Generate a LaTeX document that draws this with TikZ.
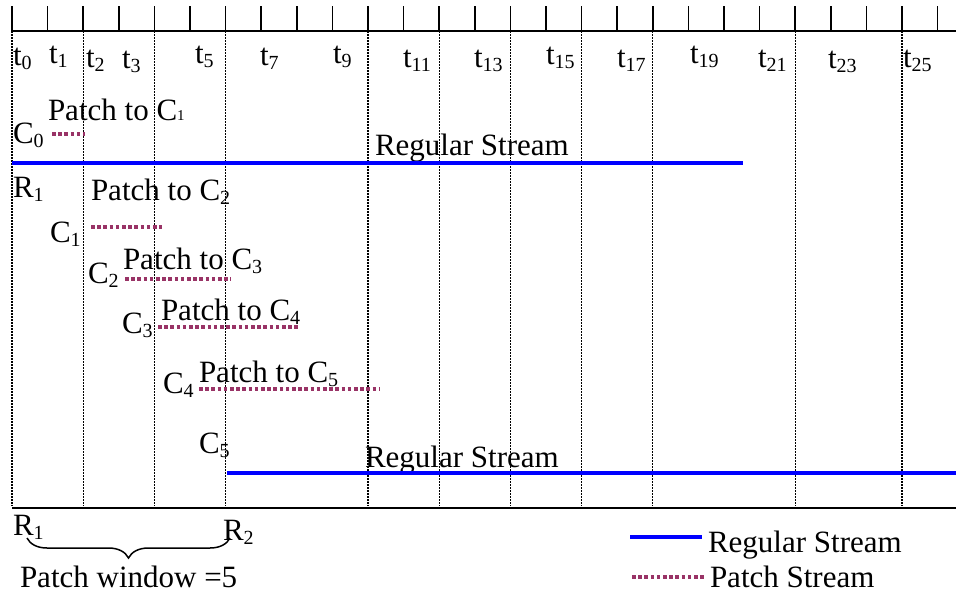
\documentclass[tikz,border=0pt]{standalone}
\usepackage{fontspec}
\setmainfont{Liberation Serif}
\usetikzlibrary{decorations.pathreplacing}
\definecolor{streamblue}{RGB}{0,0,255}
\definecolor{patchred}{RGB}{153,51,102}
\newcommand\bigfont{\fontsize{31}{37}\selectfont}
% lowered index digits, as in t_0 or C_1
\newcommand\lowidx[1]{\raisebox{-0.15em}{\fontsize{20}{20}\selectfont #1}}
\newcommand\smallidx[1]{{\fontsize{15}{15}\selectfont #1}}
\begin{document}
\begin{tikzpicture}[x=1pt,y=-1pt]
\tikzset{
  lbl/.style={anchor=base west, inner sep=0pt, outer sep=0pt, font=\bigfont},
  tickln/.style={line width=1.5pt},
  axisln/.style={line width=2pt},
  gridln/.style={line width=1.1pt, dash pattern=on 1.5pt off 1.5pt},
  regular/.style={line width=4.5pt, draw=streamblue},
  patch/.style={line width=3.5pt, draw=patchred, dash pattern=on 3.5pt off 2.7pt},
}
\useasboundingbox (0,0) rectangle (956,592);

% time axis with ticks
\coordinate (axL) at (12,31);
\coordinate (axR) at (956,31);
\draw[axisln] (axL) -- (axR);
\foreach \k in {0,...,26}{
  \coordinate (tk\k) at ({12+35.6*\k},31);
  \coordinate (tt\k) at ({12+35.6*\k},6);
  \draw[tickln] (tt\k) -- (tk\k);
}

% dotted guide lines
\foreach \k in {0,2,4,6,10,12,14,16,18,22,25}{
  \coordinate (gt\k) at ({12+35.6*\k},10);
  \coordinate (gb\k) at ({12+35.6*\k},506);
  \draw[gridln] (gt\k) -- (gb\k);
}

% bottom line
\coordinate (bL) at (12,508);
\coordinate (bR) at (956,508);
\draw[axisln] (bL) -- (bR);

% tick labels
\node[lbl] (l0)  at (13,65)  {t\lowidx{0}};
\node[lbl] (l1)  at (49,63)  {t\lowidx{1}};
\node[lbl] (l2)  at (86,67)  {t\lowidx{2}};
\node[lbl] (l3)  at (122,68) {t\lowidx{3}};
\node[lbl] (l5)  at (195,63) {t\lowidx{5}};
\node[lbl] (l7)  at (260,65) {t\lowidx{7}};
\node[lbl] (l9)  at (333,63) {t\lowidx{9}};
\node[lbl] (l11) at (403,67) {t\lowidx{11}};
\node[lbl] (l13) at (474,67) {t\lowidx{13}};
\node[lbl] (l15) at (546,64) {t\lowidx{15}};
\node[lbl] (l17) at (617,67) {t\lowidx{17}};
\node[lbl] (l19) at (690,63) {t\lowidx{19}};
\node[lbl] (l21) at (758,67) {t\lowidx{21}};
\node[lbl] (l23) at (828,68) {t\lowidx{23}};
\node[lbl] (l25) at (903,67) {t\lowidx{25}};

% first regular stream
\node[lbl] (c0) at (13,143) {C\lowidx{0}};
\node[lbl] (p1) at (48,120) {Patch to C\smallidx{1}};
\coordinate (c0a) at (52,134);
\coordinate (c0b) at (85,134);
\draw[patch] (c0a) -- (c0b);
\node[lbl] (rs1) at (375,155) {Regular Stream};
\coordinate (r1a) at (12,163);
\coordinate (r1b) at (743,163);
\draw[regular] (r1a) -- (r1b);
\node[lbl] (r1) at (13,197) {R\lowidx{1}};

% patch streams
\node[lbl] (p2) at (91,200) {Patch to C\lowidx{2}};
\node[lbl] (c1) at (50,242) {C\lowidx{1}};
\coordinate (c1a) at (91,227);
\coordinate (c1b) at (162,227);
\draw[patch] (c1a) -- (c1b);

\node[lbl] (c2) at (88,283) {C\lowidx{2}};
\node[lbl] (p3) at (123,269) {Patch to C\lowidx{3}};
\coordinate (c2a) at (125,279);
\coordinate (c2b) at (231,279);
\draw[patch] (c2a) -- (c2b);

\node[lbl] (c3) at (122,333) {C\lowidx{3}};
\node[lbl] (p4) at (161,320) {Patch to C\lowidx{4}};
\coordinate (c3a) at (158,327);
\coordinate (c3b) at (298,327);
\draw[patch] (c3a) -- (c3b);

\node[lbl] (c4) at (163,393) {C\lowidx{4}};
\node[lbl] (p5) at (199,382) {Patch to C\lowidx{5}};
\coordinate (c4a) at (199,389);
\coordinate (c4b) at (380,389);
\draw[patch] (c4a) -- (c4b);

% second regular stream
\node[lbl] (c5) at (199,453) {C\lowidx{5}};
\node[lbl] (rs2) at (365,467) {Regular Stream};
\coordinate (r2a) at (227,473);
\coordinate (r2b) at (956,473);
\draw[regular] (r2a) -- (r2b);

% patch window
\node[lbl] (rr1) at (13,535) {R\lowidx{1}};
\node[lbl] (rr2) at (223,540) {R\lowidx{2}};
\coordinate (brL) at (27,538);
\coordinate (brR) at (230,538);
\draw[line width=1.5pt, decorate, decoration={brace, mirror, amplitude=20pt, aspect=0.5}] (brL) -- (brR);
\node[lbl] (pw) at (20,587) {Patch window =5};

% legend
\coordinate (lg1a) at (630,537);
\coordinate (lg1b) at (702,537);
\draw[regular] (lg1a) -- (lg1b);
\node[lbl] (lg1) at (708,552) {Regular Stream};
\coordinate (lg2a) at (632,577);
\coordinate (lg2b) at (704,577);
\draw[patch] (lg2a) -- (lg2b);
\node[lbl] (lg2) at (710,587) {Patch Stream};
\end{tikzpicture}
\end{document}
